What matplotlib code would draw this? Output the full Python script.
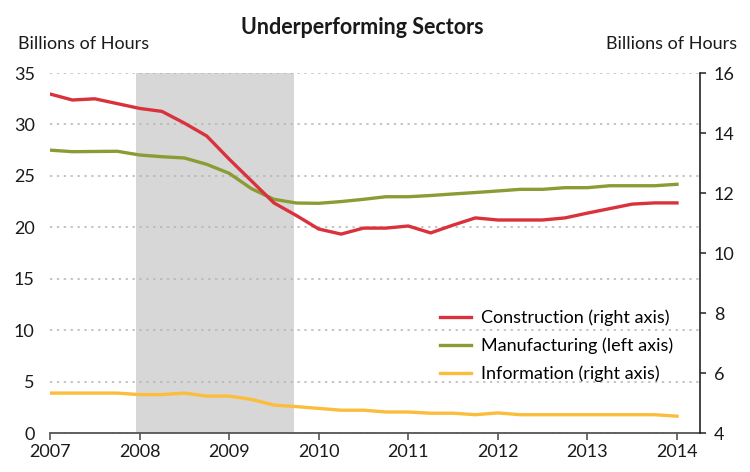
import matplotlib
matplotlib.use("Agg")
import matplotlib.pyplot as plt
import numpy as np

plt.rcParams['font.family'] = ['Lato', 'DejaVu Sans']

# quarterly, 2007.0 .. 2014.0
quarters = [2007 + q / 4 for q in range(29)]

# right axis, billions of hours
construction = [15.30, 15.10, 15.14, 14.98, 14.82, 14.72, 14.33, 13.90,
                13.13, 12.40, 11.67, 11.25, 10.80, 10.63, 10.83, 10.83,
                10.90, 10.67, 10.93, 11.17, 11.10, 11.10, 11.10, 11.17,
                11.33, 11.48, 11.63, 11.67, 11.67]
information = [5.33, 5.33, 5.33, 5.33, 5.28, 5.28, 5.33, 5.23,
               5.23, 5.12, 4.93, 4.88, 4.82, 4.76, 4.76, 4.70,
               4.70, 4.66, 4.66, 4.61, 4.67, 4.61, 4.61, 4.61,
               4.61, 4.61, 4.61, 4.61, 4.56]
# left axis
manufacturing = [27.50, 27.35, 27.37, 27.39, 27.03, 26.86, 26.74, 26.12,
                 25.25, 23.75, 22.72, 22.36, 22.33, 22.50, 22.72, 22.97,
                 22.97, 23.09, 23.24, 23.38, 23.53, 23.69, 23.69, 23.85,
                 23.85, 24.04, 24.04, 24.04, 24.18]

recession = (2007.96, 2009.72)
years = list(range(2007, 2015))
left_ticks = [0, 5, 10, 15, 20, 25, 30, 35]
right_ticks = [4, 6, 8, 10, 12, 14, 16]

red = '#d9323c'
green = '#8c9c35'
yellow = '#fbbd3c'
axis_col = '#555555'

fig = plt.figure(figsize=(7.5, 4.72), dpi=100)
ax = fig.add_axes([50 / 750, 1 - 433 / 472, 650 / 750, 360 / 472])
ax2 = ax.twinx()

ax.axvspan(*recession, color='#d7d7d7', lw=0, zorder=0)

ax.set_xlim(2007, 2014.257)
ax.set_ylim(0, 35)
ax2.set_ylim(4, 16)

ax.set_yticks(left_ticks)
ax.yaxis.grid(True, color='#b4b4b4', linestyle=(0, (1.5, 3)), lw=1.1)
ax.set_axisbelow(True)
ax.set_xticks(years)

for s in ['top', 'left', 'right']:
    ax.spines[s].set_visible(False)
for s in ['top', 'left', 'bottom']:
    ax2.spines[s].set_visible(False)
ax.spines['bottom'].set_color(axis_col)
ax.spines['bottom'].set_linewidth(1.3)
ax2.spines['right'].set_color('#222222')
ax2.spines['right'].set_linewidth(1.2)

ax.tick_params(axis='y', length=0, pad=11, labelsize=13, labelcolor='#1a1a1a')
ax.tick_params(axis='x', length=5, width=1.2, color=axis_col, pad=3,
               labelsize=13, labelcolor='#1a1a1a')
ax2.set_yticks(right_ticks)
ax2.tick_params(axis='y', length=4, width=1.1, color='#222222', pad=6,
                labelsize=13, labelcolor='#1a1a1a')

l1, = ax2.plot(quarters, construction, color=red, lw=2.4, label='Construction (right axis)',
               solid_joinstyle='round')
l2, = ax.plot(quarters, manufacturing, color=green, lw=2.4, label='Manufacturing (left axis)',
              solid_joinstyle='round')
l3, = ax2.plot(quarters, information, color=yellow, lw=2.4, label='Information (right axis)',
               solid_joinstyle='round')

ax2.legend(handles=[l1, l2, l3], loc='upper left', bbox_to_anchor=(0.6, 0.342),
           frameon=False, fontsize=13, handlelength=1.7, handletextpad=0.55,
           labelspacing=0.62, borderaxespad=0, borderpad=0)

fig.text(362 / 750, 1 - 27 / 472, 'Underperforming Sectors', ha='center', va='center',
         fontsize=15.5, fontweight='bold', color='#1a1a1a')
fig.text(18 / 750, 1 - 44 / 472, 'Billions of Hours', ha='left', va='center',
         fontsize=13, color='#1a1a1a')
fig.text(737 / 750, 1 - 44 / 472, 'Billions of Hours', ha='right', va='center',
         fontsize=13, color='#1a1a1a')

fig.savefig('out.png', dpi=100, facecolor='white')
